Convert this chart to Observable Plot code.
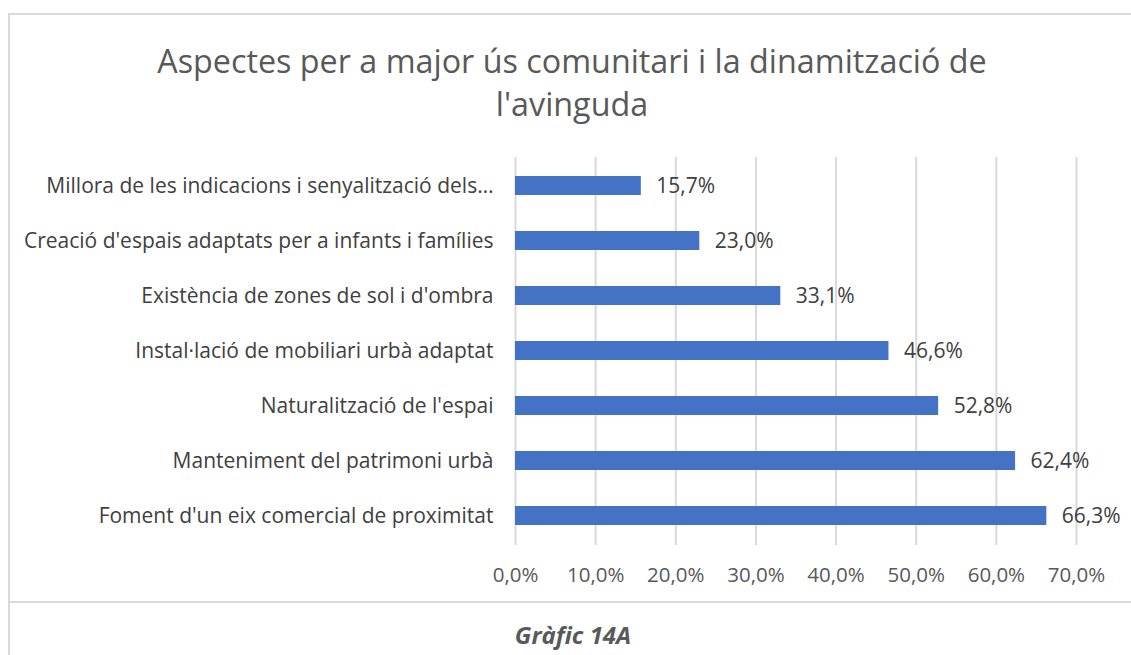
<!DOCTYPE html>
<html>
<head>
<meta charset="utf-8">
<script src="https://cdn.jsdelivr.net/npm/d3@7"></script>
<script src="https://cdn.jsdelivr.net/npm/@observablehq/plot@0.6"></script>
<style>
  html, body { margin: 0; padding: 0; background: #fff; }
  #wrap { position: relative; width: 1131px; height: 655px; overflow: hidden; font-family: "Open Sans", sans-serif; }
  #frame { position: absolute; left: 8px; top: 13px; width: 1140px; height: 590px; border: 2px solid #d9d9d9; box-sizing: border-box; }
  #capline { position: absolute; left: 8px; top: 603px; width: 2px; height: 60px; background: #d9d9d9; }
  #title { position: absolute; left: 0; width: 1144px; top: 39px; text-align: center; font-size: 32.3px; line-height: 43px; color: #595959; font-weight: 400; }
  #chart { position: absolute; left: 0; top: 140px; }
  #caption { position: absolute; left: 0; width: 1146px; top: 618px; text-align: center; font-size: 24px; font-style: italic; font-weight: bold; color: #595959; }
</style>
</head>
<body>
<div id="wrap">
  <div id="frame"></div>
  <div id="capline"></div>
  <div id="title">Aspectes per a major ús comunitari i la dinamització de<br>l'avinguda</div>
  <div id="chart"></div>
  <div id="caption">Gràfic 14A</div>
</div>
<script>
const categories = [
  "Millora de les indicacions i senyalització dels…",
  "Creació d'espais adaptats per a infants i famílies",
  "Existència de zones de sol i d'ombra",
  "Instal·lació de mobiliari urbà adaptat",
  "Naturalització de l'espai",
  "Manteniment del patrimoni urbà",
  "Foment d'un eix comercial de proximitat"
];
const values = [0.157, 0.230, 0.331, 0.466, 0.528, 0.624, 0.663];
const xTicks = [0, 0.1, 0.2, 0.3, 0.4, 0.5, 0.6, 0.7];

const data = categories.map((c, i) => ({category: c, value: values[i]}));
const fmt = v => (v * 100).toFixed(1).replace(".", ",") + "%";

const chart = Plot.plot({
  width: 1131,
  height: 460,
  marginLeft: 515,
  marginRight: 55,
  marginTop: 17,
  marginBottom: 55,
  style: { fontFamily: "Open Sans, sans-serif", fontSize: "21px", color: "#404040", background: "transparent" },
  x: { domain: [0, 0.7], ticks: xTicks, tickFormat: fmt },
  y: { domain: categories, paddingInner: 0.65, paddingOuter: 0.325 },
  marks: [
    Plot.ruleX(xTicks, { stroke: "#d9d9d9", strokeWidth: 2, strokeOpacity: 1 }),
    Plot.barX(data, { x: "value", y: "category", fill: "#4472c4" }),
    Plot.text(data, { x: "value", y: "category", text: d => fmt(d.value), textAnchor: "start", dx: 15, fill: "#404040", fontSize: 21 }),
    Plot.axisX({ ticks: xTicks, tickFormat: fmt, tickSize: 0, tickPadding: 22, fontSize: 20.5, color: "#595959", label: null }),
    Plot.axisY({ tickSize: 0, tickPadding: 22, fontSize: 21, color: "#404040", label: null })
  ]
});
document.getElementById("chart").appendChild(chart);
</script>
</body>
</html>
